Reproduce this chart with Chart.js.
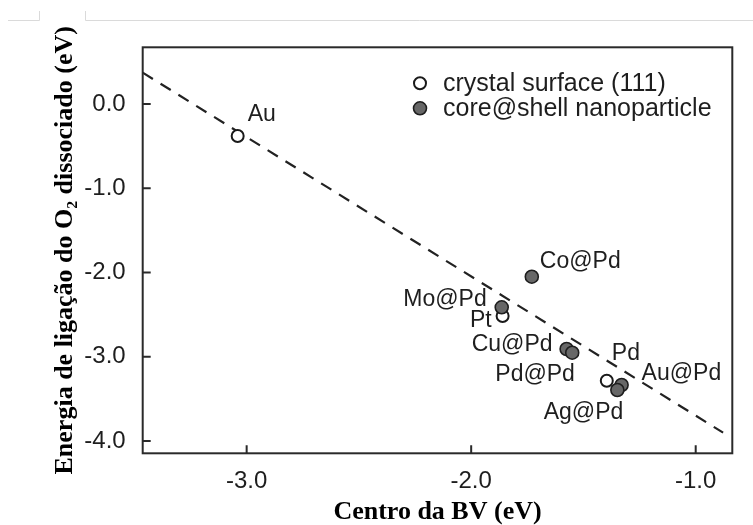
<!DOCTYPE html>
<html><head><meta charset="utf-8">
<script src="https://cdn.jsdelivr.net/npm/chart.js@4/dist/chart.umd.min.js"></script>
<style>html,body{margin:0;padding:0;background:#fff;}#wrap{width:753px;height:525px;}</style>
</head><body><div id="wrap"><canvas id="c" width="753" height="525"></canvas></div>
<script>
// ---- data ----
const crystalNames = ['Au', 'Pt', 'Pd'];
const crystalX = [-3.04, -1.86, -1.396];
const crystalY = [-0.38, -2.516, -3.284];

const shellNames = ['Co@Pd', 'Mo@Pd', 'Cu@Pd', 'Pd@Pd', 'Au@Pd', 'Ag@Pd'];
const shellX = [-1.73, -1.864, -1.575, -1.55, -1.33, -1.349];
const shellY = [-2.05, -2.413, -2.908, -2.952, -3.335, -3.395];

const fitX = [-3.463, -0.878];
const fitY = [0.372, -3.901];

const xTicks = [-3, -2, -1];
const yTicks = [0, -1, -2, -3, -4];

const seriesLabels = ['crystal surface (111)', 'core@shell nanoparticle'];
const xTitle = 'Centro da BV (eV)';
const yTitle = 'Energia de ligação do O\u2082 dissociado (eV)';

// ---- label placement (style, not data) ----
const crystalLabelPos = [
  {dx: 10, dy: -21.7, align: 'left'},
  {dx: -11, dy: 5, align: 'right'},
  {dx: 5, dy: -26.7, align: 'left'}
];
const shellLabelPos = [
  {dx: 8, dy: -15.4, align: 'left'},
  {dx: -15, dy: -8.1, align: 'right'},
  {dx: -14, dy: -4, align: 'right'},
  {dx: 2.7, dy: 22, align: 'right'},
  {dx: 20, dy: -11.7, align: 'left'},
  {dx: 6, dy: 22.3, align: 'right'}
];

const TXT = '#1e1e1e';
const SANS = "'Liberation Sans', Arial, sans-serif";
const SERIF = "'Liberation Serif', 'Times New Roman', serif";

const toPts = (xs, ys) => xs.map((x, i) => ({x: x, y: ys[i]}));

const decorPlugin = {
  id: 'decor',
  beforeDraw(chart) {
    const ctx = chart.ctx;
    ctx.save();
    ctx.strokeStyle = '#dadada';
    ctx.lineWidth = 1;
    ctx.beginPath();
    ctx.moveTo(8, 20.5); ctx.lineTo(39.5, 20.5);
    ctx.moveTo(39.5, 11); ctx.lineTo(39.5, 20.5);
    ctx.moveTo(85.5, 11); ctx.lineTo(85.5, 20.5);
    ctx.moveTo(85.5, 20.5); ctx.lineTo(753, 20.5);
    ctx.stroke();
    ctx.restore();
  }
};

const framePlugin = {
  id: 'frame',
  afterDraw(chart) {
    const {ctx, chartArea: a, scales} = chart;
    ctx.save();
    ctx.strokeStyle = '#2a2a2a';
    ctx.lineWidth = 2;
    ctx.strokeRect(a.left, a.top, a.right - a.left, a.bottom - a.top);
    ctx.beginPath();
    const tl = 8;
    scales.x.ticks.forEach(t => {
      const px = scales.x.getPixelForValue(t.value);
      ctx.moveTo(px, a.bottom); ctx.lineTo(px, a.bottom - tl);
    });
    scales.y.ticks.forEach(t => {
      const py = scales.y.getPixelForValue(t.value);
      ctx.moveTo(a.left, py); ctx.lineTo(a.left + tl, py);
    });
    ctx.stroke();
    ctx.restore();
  }
};

const labelPlugin = {
  id: 'ptlabels',
  afterDatasetsDraw(chart) {
    const ctx = chart.ctx;
    ctx.save();
    ctx.font = '23px ' + SANS;
    ctx.fillStyle = TXT;
    ctx.textBaseline = 'middle';
    const draw = (dsIndex, names, pos) => {
      const meta = chart.getDatasetMeta(dsIndex);
      meta.data.forEach((el, i) => {
        ctx.textAlign = pos[i].align;
        ctx.fillText(names[i], el.x + pos[i].dx, el.y + pos[i].dy);
      });
    };
    draw(0, crystalNames, crystalLabelPos);
    draw(1, shellNames, shellLabelPos);
    ctx.restore();
  }
};

const legendPlugin = {
  id: 'innerLegend',
  afterDraw(chart) {
    const ctx = chart.ctx;
    const x0 = 420, y0 = 83.3, step = 25;
    ctx.save();
    ctx.font = '25px ' + SANS;
    ctx.textBaseline = 'middle';
    ctx.textAlign = 'left';
    [0, 1].forEach((di, k) => {
      const ds = chart.data.datasets[di];
      const y = y0 + k * step;
      ctx.beginPath();
      ctx.arc(x0, y, ds.pointRadius, 0, Math.PI * 2);
      ctx.fillStyle = ds.pointBackgroundColor;
      ctx.fill();
      ctx.lineWidth = ds.pointBorderWidth;
      ctx.strokeStyle = ds.pointBorderColor;
      ctx.stroke();
      ctx.fillStyle = TXT;
      ctx.fillText(ds.label, 443, y + 1);
    });
    ctx.restore();
  }
};

new Chart(document.getElementById('c'), {
  type: 'scatter',
  data: {
    datasets: [
      {
        label: seriesLabels[0],
        data: toPts(crystalX, crystalY),
        pointRadius: 6,
        pointHoverRadius: 6,
        pointBackgroundColor: '#ffffff',
        pointBorderColor: '#1a1a1a',
        pointBorderWidth: 2,
        order: 1
      },
      {
        label: seriesLabels[1],
        data: toPts(shellX, shellY),
        pointRadius: 6.5,
        pointHoverRadius: 6.5,
        pointBackgroundColor: '#676767',
        pointBorderColor: '#1e1e1e',
        pointBorderWidth: 1.6,
        order: 0
      },
      {
        type: 'line',
        label: 'fit',
        data: toPts(fitX, fitY),
        showLine: true,
        borderColor: '#222222',
        borderWidth: 2.2,
        borderDash: [12, 9],
        pointRadius: 0,
        fill: false,
        order: 2
      }
    ]
  },
  options: {
    responsive: false,
    devicePixelRatio: 1,
    animation: false,
    events: [],
    layout: {padding: {left: 52, top: 47.3, right: 20.7, bottom: 0}},
    plugins: {legend: {display: false}, tooltip: {enabled: false}},
    scales: {
      x: {
        type: 'linear',
        min: -3.463,
        max: -0.837,
        grid: {display: false},
        border: {display: false},
        afterBuildTicks: s => { s.ticks = xTicks.map(v => ({value: v})); },
        afterFit: s => { s.height = 71.7; },
        ticks: {
          padding: 6,
          color: TXT,
          font: {family: SANS, size: 24},
          callback: v => Number(v).toFixed(1)
        },
        title: {
          display: true,
          text: xTitle,
          color: '#000',
          padding: {top: 0, bottom: 0},
          font: {family: SERIF, size: 26, weight: 'bold', lineHeight: 1}
        }
      },
      y: {
        type: 'linear',
        min: -4.146,
        max: 0.673,
        grid: {display: false},
        border: {display: false},
        afterBuildTicks: s => { s.ticks = yTicks.map(v => ({value: v})); },
        afterFit: s => { s.width = 90.7; },
        ticks: {
          padding: 9,
          color: TXT,
          font: {family: SANS, size: 24},
          callback: v => Number(v).toFixed(1)
        },
        title: {
          display: true,
          text: yTitle,
          color: '#000',
          padding: {top: 0, bottom: 0},
          font: {family: SERIF, size: 26, weight: 'bold', lineHeight: 1}
        }
      }
    }
  },
  plugins: [decorPlugin, framePlugin, labelPlugin, legendPlugin]
});
</script>
</body></html>
